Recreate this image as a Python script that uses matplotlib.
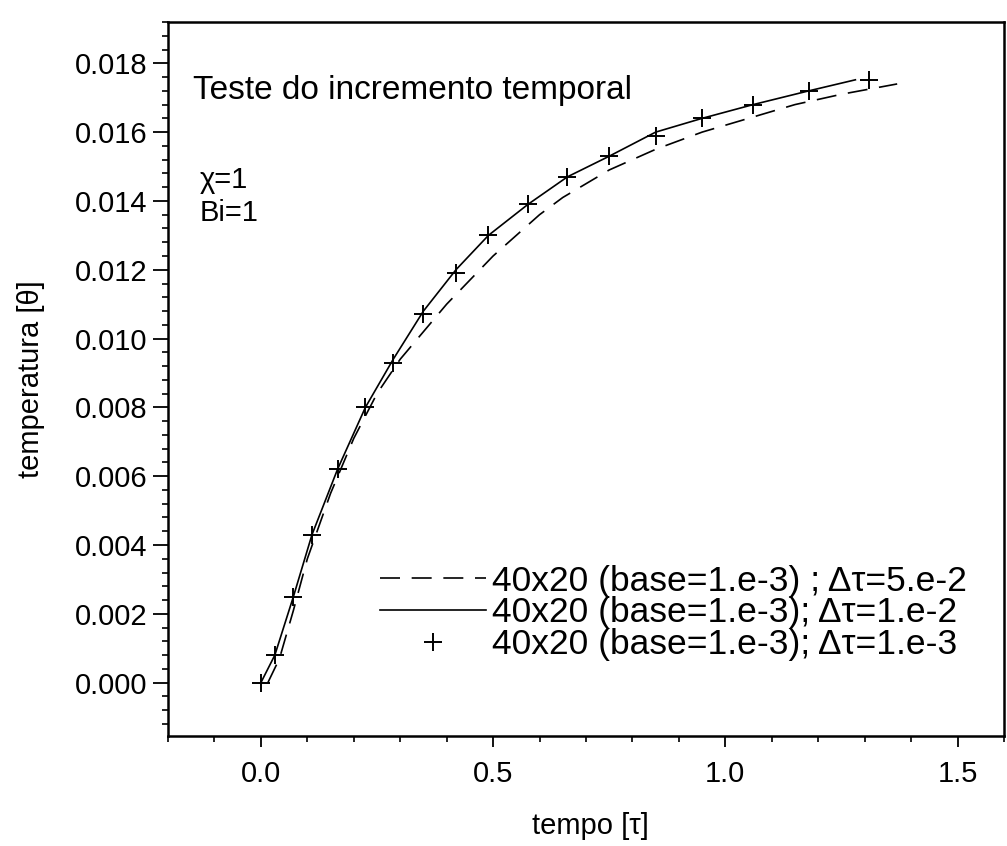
import matplotlib
matplotlib.use("Agg")
import matplotlib.pyplot as plt
from matplotlib.ticker import MultipleLocator, FormatStrFormatter

# ---- data ----
tau_coarse = [0.015, 0.04, 0.07, 0.10, 0.15, 0.20, 0.25, 0.30, 0.35, 0.40, 0.45, 0.50,
              0.55, 0.60, 0.65, 0.75, 0.85, 0.95, 1.05, 1.15, 1.25, 1.37]
theta_coarse = [0.0000, 0.0007, 0.0021, 0.0036, 0.0055, 0.0071, 0.0084, 0.0094, 0.0102,
                0.0110, 0.0117, 0.0124, 0.0130, 0.0136, 0.0141, 0.0149, 0.0155, 0.0160,
                0.0164, 0.0168, 0.0171, 0.0174]

tau_mid = [0.0, 0.03, 0.07, 0.11, 0.165, 0.225, 0.285, 0.35, 0.42, 0.49, 0.575, 0.66,
           0.75, 0.85, 0.95, 1.06, 1.18, 1.28]
theta_mid = [0.0000, 0.0008, 0.0025, 0.0043, 0.0062, 0.0080, 0.0094, 0.0108, 0.0120,
             0.0130, 0.0139, 0.0147, 0.0153, 0.0160, 0.0164, 0.0168, 0.0172, 0.01752]

tau_fine = [0.0, 0.03, 0.07, 0.11, 0.165, 0.225, 0.285, 0.35, 0.42, 0.49, 0.575, 0.66,
            0.75, 0.85, 0.95, 1.06, 1.18, 1.31]
theta_fine = [0.0000, 0.0008, 0.0025, 0.0043, 0.0062, 0.0080, 0.0093, 0.0107, 0.0119,
              0.0130, 0.0139, 0.0147, 0.0153, 0.0159, 0.0164, 0.0168, 0.0172, 0.0175]

labels = ["40x20 (base=1.e-3) ; Δτ=5.e-2",
          "40x20 (base=1.e-3); Δτ=1.e-2",
          "40x20 (base=1.e-3); Δτ=1.e-3"]
x_ticks = [0.0, 0.5, 1.0, 1.5]
y_ticks = [0.000, 0.002, 0.004, 0.006, 0.008, 0.010, 0.012, 0.014, 0.016, 0.018]

plt.rcParams['font.family'] = ['Liberation Sans', 'DejaVu Sans']

fig = plt.figure(figsize=(10.07, 8.46), dpi=100)
ax = fig.add_axes([168/1007, 1-736/846, 836/1007, 714/846])

ax.plot(tau_coarse, theta_coarse, color='black', lw=1.2, dashes=(12, 7), label=labels[0])
ax.plot(tau_mid, theta_mid, color='black', lw=1.2, label=labels[1])
ax.plot(tau_fine, theta_fine, color='black', lw=0, marker='+', markersize=13,
        markeredgewidth=1.4, label=labels[2])

ax.set_xlim(-0.2, 1.6)
ax.set_ylim(-0.00155, 0.0192)
ax.set_xticks(x_ticks)
ax.set_yticks(y_ticks)
ax.xaxis.set_major_formatter(FormatStrFormatter('%.1f'))
ax.yaxis.set_major_formatter(FormatStrFormatter('%.3f'))
ax.xaxis.set_minor_locator(MultipleLocator(0.1))
ax.yaxis.set_minor_locator(MultipleLocator(0.0004))
ax.tick_params(axis='x', which='major', direction='out', length=8, width=1.3,
               labelsize=21, pad=9.5)
ax.tick_params(axis='y', which='major', direction='out', length=11, width=1.3,
               labelsize=21, pad=4)
ax.tick_params(which='minor', direction='out', length=4.3, width=1.2)
for s in ax.spines.values():
    s.set_linewidth(1.8)

ax.set_xlabel("tempo [τ]", fontsize=21)
ax.set_ylabel("temperatura [θ]", fontsize=21)
ax.xaxis.set_label_coords(0.505, -0.106)
ax.yaxis.set_label_coords(-0.147, 0.50)

ax.text(0.030, 0.904, "Teste do incremento temporal", transform=ax.transAxes,
        fontsize=24, va='center', ha='left')
ax.text(0.038, 0.779, "χ=1", transform=ax.transAxes, fontsize=21, va='center', ha='left')
ax.text(0.038, 0.733, "Bi=1", transform=ax.transAxes, fontsize=21, va='center', ha='left')

ax.legend(loc='lower right', bbox_to_anchor=(0.955, 0.105), frameon=False, fontsize=25.5,
          handlelength=3.0, handletextpad=0.15, labelspacing=-0.04, numpoints=1,
          borderpad=0.0, borderaxespad=0.0)

fig.savefig("out.png", dpi=100)
